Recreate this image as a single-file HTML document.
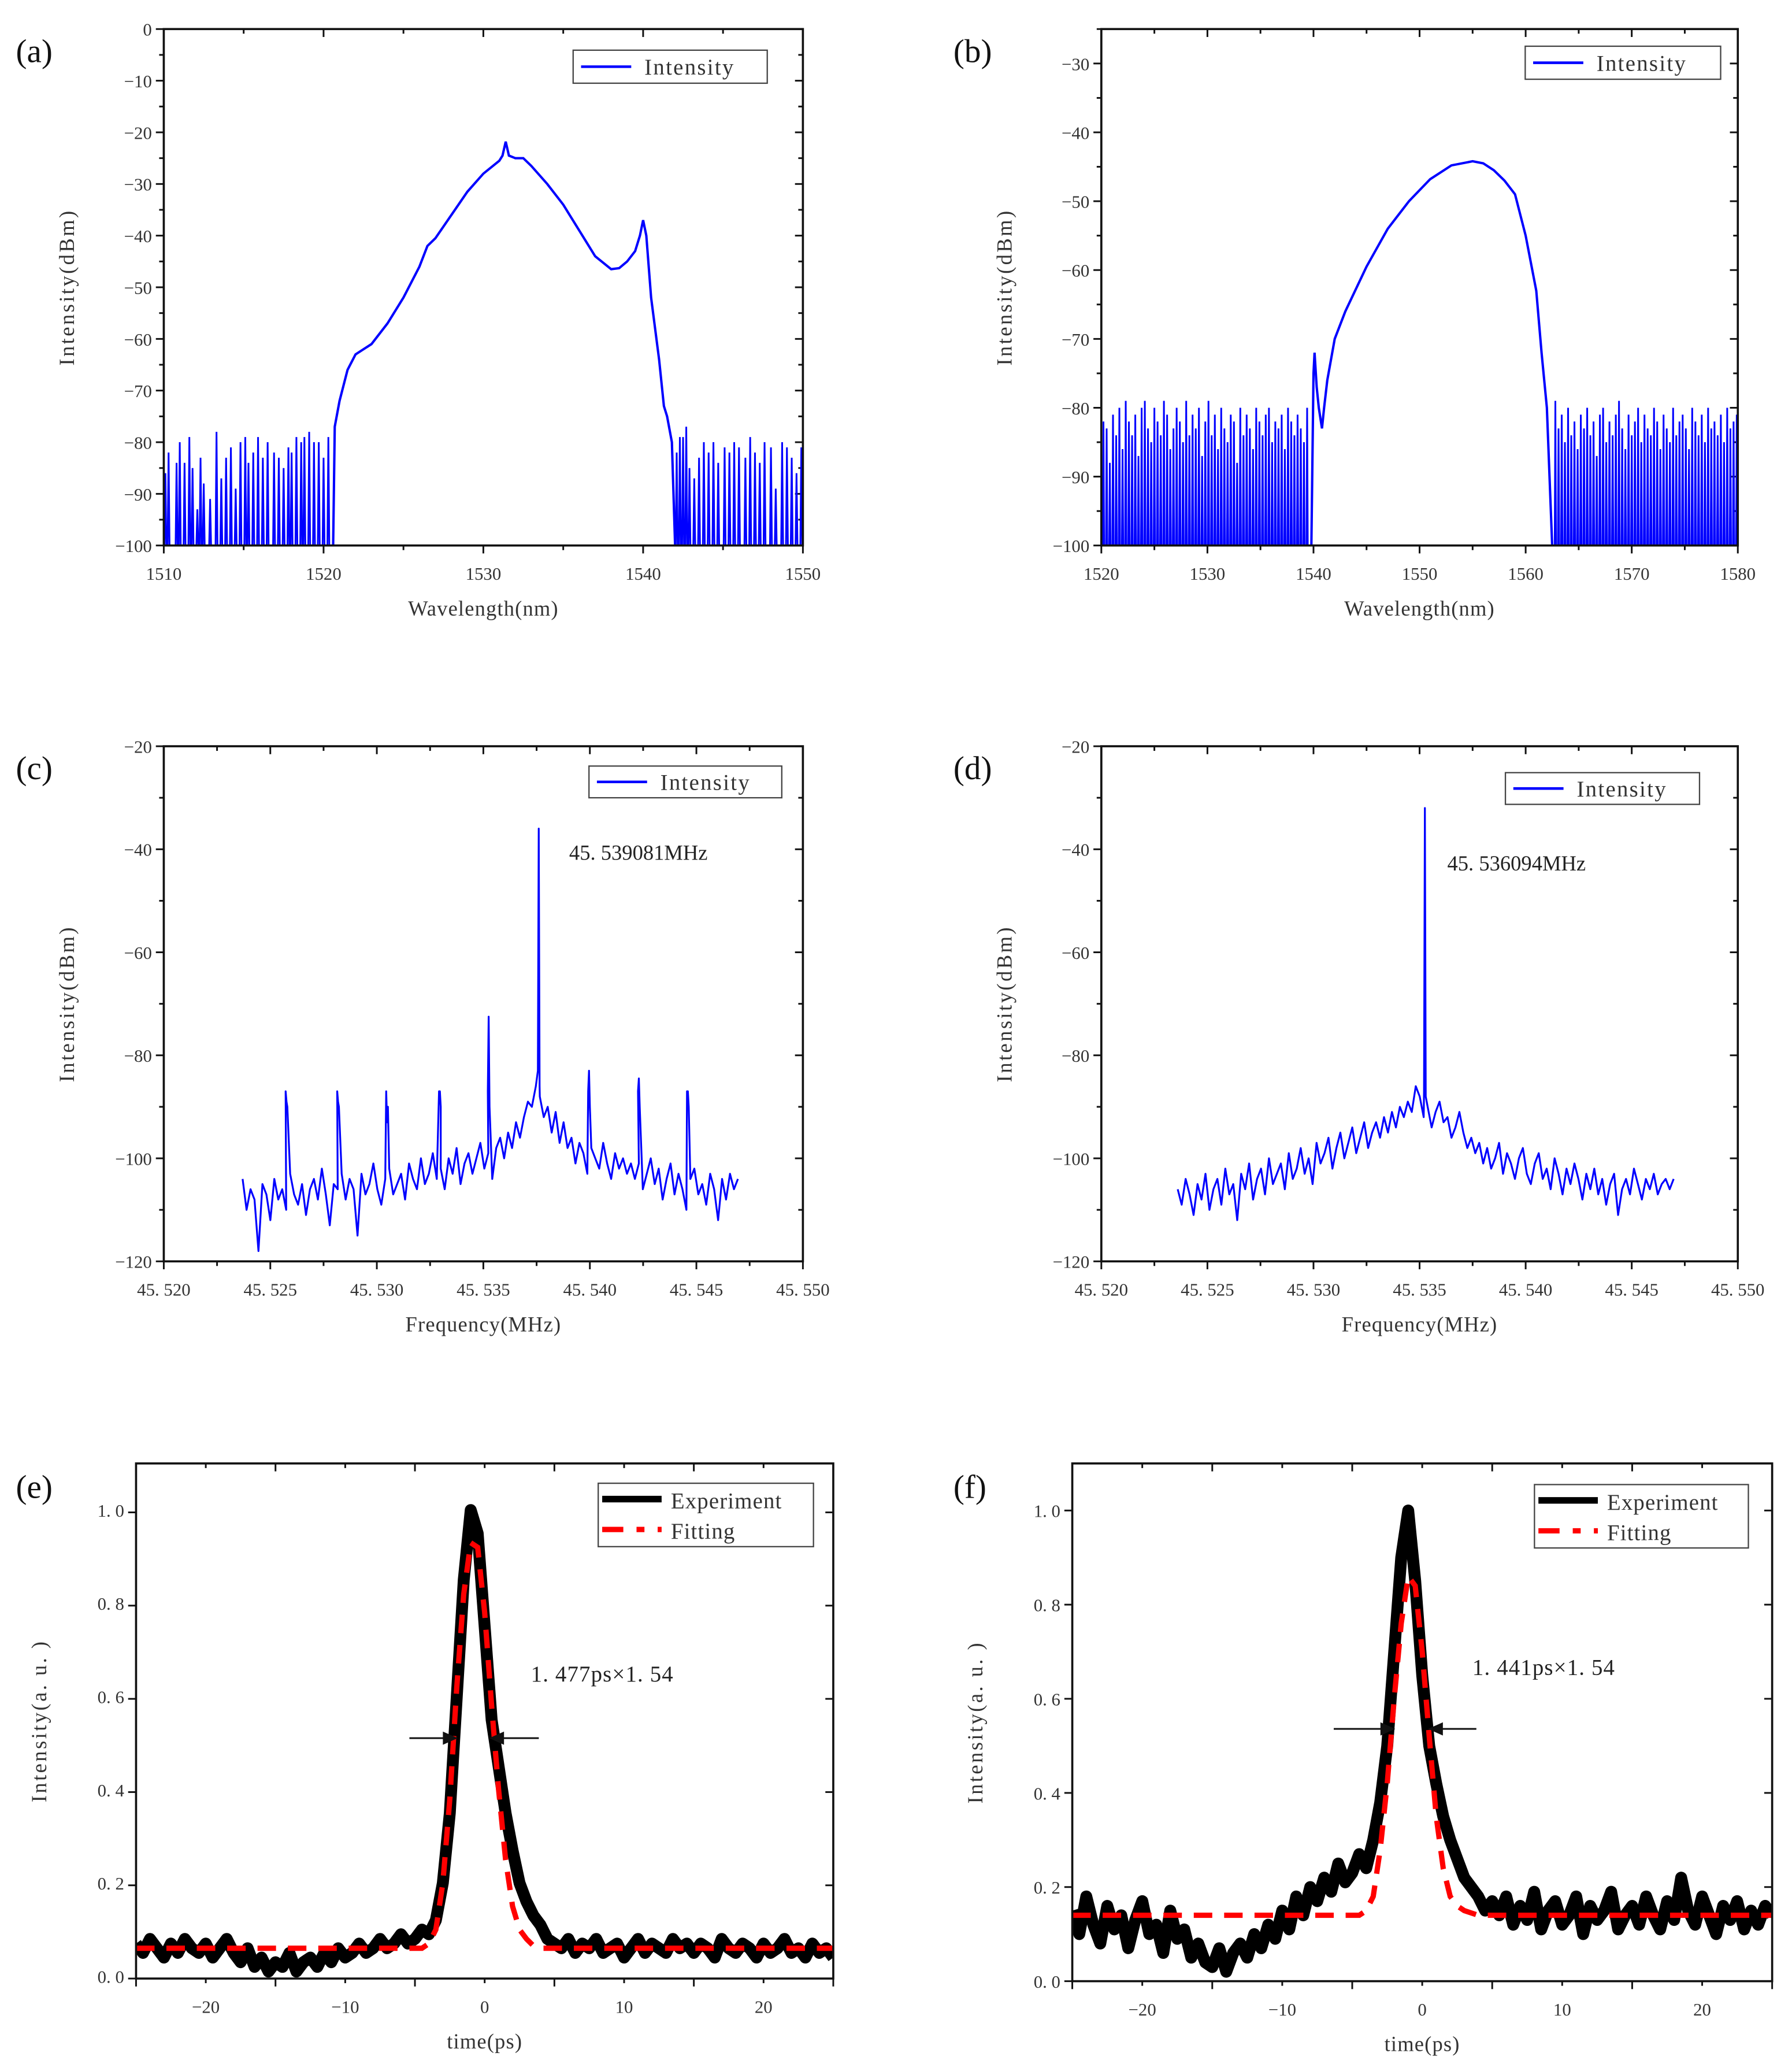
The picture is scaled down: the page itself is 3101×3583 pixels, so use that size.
<!DOCTYPE html>
<html><head><meta charset="utf-8"><style>
html,body{margin:0;padding:0;background:#fff;}
svg{display:block;}
text{font-family:"Liberation Serif","Noto Serif CJK SC",serif;}
</style></head><body>
<svg id="fig" xmlns="http://www.w3.org/2000/svg" width="3101" height="3583" viewBox="0 0 1357 1568"></svg>
<script>
// ---------- Panel (a) data ----------
const aMainX=[1520.6,1520.7,1521,1521.5,1522,1523,1524,1525,1526,1526.5,1527,1528,1529,1530,1531,1531.2,1531.4,1531.6,1532,1532.5,1533,1534,1535,1536,1537,1538,1538.5,1539,1539.5,1539.8,1540,1540.2,1540.5,1541,1541.3,1541.5,1541.8,1542];
const aMainY=[-100,-77,-72,-66,-63,-61,-57,-52,-46,-42,-40.5,-36,-31.5,-28,-25.5,-24.5,-21.8,-24.5,-25,-25,-26.5,-30,-34,-39,-44,-46.5,-46.3,-45,-43,-40,-37,-40,-52,-64,-73,-75,-80,-100];
const aNoiseX=[1510.1,1510.3,1510.8,1511,1511.3,1511.6,1511.8,1512.1,1512.3,1512.5,1512.9,1513.3,1513.6,1513.9,1514.2,1514.5,1514.8,1515.1,1515.3,1515.6,1515.9,1516.2,1516.5,1516.9,1517.2,1517.5,1517.8,1518,1518.3,1518.6,1518.8,1519.1,1519.4,1519.7,1520,1520.3,1542.1,1542.3,1542.5,1542.7,1542.9,1543.2,1543.5,1543.8,1544.1,1544.4,1544.7,1545.1,1545.4,1545.7,1546,1546.4,1546.7,1547,1547.3,1547.6,1548,1548.3,1548.7,1549,1549.3,1549.6,1549.9];
const aNoiseY=[-86,-82,-84,-80,-84,-79,-85,-93,-83,-88,-91,-78,-87,-83,-81,-89,-80,-79,-84,-82,-79,-83,-80,-82,-83,-85,-81,-82,-79,-80,-79,-78,-80,-80,-83,-79,-82,-79,-79,-77,-85,-87,-83,-80,-82,-80,-84,-81,-82,-80,-81,-83,-79,-82,-84,-80,-81,-89,-80,-81,-83,-86,-81];
// ---------- Panel (b) data ----------
const bMainX=[1539.8,1540,1540.1,1540.3,1540.5,1540.8,1541,1541.3,1542,1543,1545,1547,1549,1551,1553,1555,1556,1557,1558,1559,1560,1561,1561.5,1562,1562.5];
const bMainY=[-100,-75,-72,-77,-80,-83,-80,-76,-70,-66,-59.5,-54,-50,-46.8,-44.8,-44.2,-44.5,-45.5,-47,-49,-55,-63,-72,-80,-100];
const bNoiseX=[1520.2,1520.5,1520.8,1521.1,1521.4,1521.7,1522,1522.3,1522.6,1522.9,1523.2,1523.5,1523.8,1524.1,1524.4,1524.7,1525,1525.3,1525.6,1525.9,1526.2,1526.5,1526.8,1527.1,1527.4,1527.7,1528,1528.3,1528.6,1528.9,1529.2,1529.5,1529.8,1530.1,1530.4,1530.7,1531,1531.3,1531.6,1531.9,1532.2,1532.5,1532.8,1533.1,1533.4,1533.7,1534,1534.3,1534.6,1534.9,1535.2,1535.5,1535.8,1536.1,1536.4,1536.7,1537,1537.3,1537.6,1537.9,1538.2,1538.5,1538.8,1539.1,1539.4,
1562.8,1563.1,1563.4,1563.7,1564,1564.3,1564.6,1564.9,1565.2,1565.5,1565.8,1566.1,1566.4,1566.7,1567,1567.3,1567.6,1567.9,1568.2,1568.5,1568.8,1569.1,1569.4,1569.7,1570,1570.3,1570.6,1570.9,1571.2,1571.5,1571.8,1572.1,1572.4,1572.7,1573,1573.3,1573.6,1573.9,1574.2,1574.5,1574.8,1575.1,1575.4,1575.7,1576,1576.3,1576.6,1576.9,1577.2,1577.5,1577.8,1578.1,1578.4,1578.7,1579,1579.3,1579.6,1579.9];
const bNoiseY=[-82,-83,-88,-81,-84,-80,-86,-79,-82,-84,-81,-87,-80,-79,-83,-85,-80,-82,-84,-79,-81,-86,-83,-80,-82,-85,-79,-84,-81,-83,-80,-87,-82,-79,-84,-81,-86,-80,-83,-85,-81,-82,-88,-80,-84,-81,-83,-86,-80,-82,-84,-81,-80,-85,-82,-83,-81,-86,-80,-82,-84,-81,-83,-85,-80,
-79,-83,-81,-85,-80,-84,-82,-86,-81,-83,-80,-84,-82,-87,-81,-80,-85,-82,-84,-81,-79,-83,-86,-81,-84,-82,-80,-85,-81,-83,-84,-80,-82,-86,-81,-83,-85,-80,-84,-82,-81,-83,-86,-80,-82,-84,-81,-85,-80,-83,-82,-84,-81,-85,-80,-83,-82,-81];
// ---------- Panel (c) data ----------
const cStart=45.5237, cStep=0.000186;
const cBase=[-104,-110,-106,-108,-118,-105,-107,-112,-104,-108,-106,-110,-103,-107,-109,-105,-111,-106,-104,-108,-102,-107,-113,-105,-106,-103,
-108,-104,-106,-115,-103,-107,-105,-101,-106,-109,-104,-102,-107,-105,-103,-108,-101,-104,-106,-100,-105,-103,-99,-104,
-102,-106,-100,-103,-98,-105,-101,-99,-103,-100,-97,-102,-99,-104,-98,-96,-100,-95,-98,-93,-96,-92,-89,-90,-86,
-88,-92,-90,-95,-91,-97,-93,-98,-96,-101,-97,-99,-103,-98,-100,-102,-97,-101,-104,-99,-102,-100,-103,-101,
-104,-101,-106,-103,-100,-105,-102,-108,-104,-101,-107,-103,-106,-110,-104,-102,-107,-105,-109,-103,-106,-112,-104,-108,-103,-106,-104];
const cSpikeX=[45.52576,45.52818,45.53048,45.53296,45.53525,45.5376,45.53996,45.5423,45.5446];
const cSpikeY=[-89,-89,-93,-87,-72.5,-36,-83,-84.5,-87];
// ---------- Panel (d) data ----------
const dStart=45.5236, dStep=0.000187;
const dBase=[-106,-109,-104,-107,-111,-105,-108,-103,-110,-106,-104,-109,-102,-107,-105,-112,-103,-106,-101,-108,-104,-102,-107,-100,-105,-103,
-101,-106,-99,-104,-102,-98,-103,-100,-105,-97,-101,-99,-96,-102,-98,-95,-100,-97,-94,-99,-96,-93,-98,-95,
-93,-96,-92,-95,-91,-94,-90,-92,-89,-91,-86,-88,-92,-90,-94,-91,-89,-93,-92,-96,-94,-91,-95,-98,-96,
-99,-97,-101,-98,-102,-100,-97,-103,-99,-101,-104,-100,-98,-103,-105,-101,-99,-104,-102,-106,-100,-103,-107,-102,
-105,-101,-104,-108,-103,-106,-102,-107,-104,-109,-105,-103,-111,-106,-104,-107,-102,-105,-108,-104,-106,-103,-107,-105,-104,-106,-104];
const dSpikeX=[45.53525];
const dSpikeY=[-32];
// ---------- Panel (e) data ----------
const eStart=-25, eStep=0.5;
const eExp=[.07,.05,.08,.06,.04,.07,.05,.08,.06,.05,.07,.04,.06,.08,.05,.03,.06,.02,.04,.01,
.03,.02,.05,.01,.03,.04,.02,.05,.03,.06,.04,.05,.07,.05,.06,.08,.06,.07,.09,.07,
.08,.1,.09,.12,.2,.35,.6,.85,1.0,.95,.75,.55,.45,.35,.27,.2,.16,.13,.11,.08,
.07,.06,.08,.05,.07,.06,.08,.05,.06,.07,.04,.06,.08,.05,.07,.06,.05,.08,.06,.07,
.05,.07,.06,.04,.08,.06,.05,.07,.06,.04,.07,.05,.06,.08,.05,.06,.04,.07,.05,.06,.04];
const eFit=[.06,.06,.06,.06,.06,.06,.06,.06,.06,.06,.06,.06,.06,.06,.06,.06,.06,.06,.06,.06,.06,.06,.06,.06,.06,.06,.06,.06,.06,.06,.06,.06,.06,.06,.06,.06,.06,.06,.06,.06,.06,.06,
.07,.1,.2,.38,.62,.82,.93,.92,.78,.58,.4,.25,.15,.1,.08,.065,
.06,.06,.06,.06,.06,.06,.06,.06,.06,.06,.06,.06,.06,.06,.06,.06,.06,.06,.06,.06,.06,.06,.06,.06,.06,.06,.06,.06,.06,.06,.06,.06,.06,.06,.06,.06,.06,.06,.06,.06,.06,.06,.06];
// ---------- Panel (f) data ----------
const fStart=-25, fStep=0.5;
const fExp=[.15,.1,.18,.12,.08,.16,.11,.14,.07,.13,.17,.1,.12,.06,.15,.09,.11,.05,.08,.04,
.03,.07,.02,.06,.08,.05,.1,.07,.12,.09,.15,.11,.18,.14,.2,.17,.22,.19,.25,.21,
.23,.27,.24,.3,.38,.5,.7,.9,1.0,.85,.65,.5,.42,.35,.3,.26,.22,.2,.18,.15,
.17,.14,.18,.12,.16,.13,.19,.11,.15,.17,.12,.14,.18,.1,.16,.13,.15,.19,.11,.14,
.16,.12,.18,.14,.11,.17,.13,.22,.15,.12,.18,.14,.1,.16,.13,.17,.11,.15,.12,.16,.14];
const fFit=[.14,.14,.14,.14,.14,.14,.14,.14,.14,.14,.14,.14,.14,.14,.14,.14,.14,.14,.14,.14,.14,.14,.14,.14,.14,.14,.14,.14,.14,.14,.14,.14,.14,.14,.14,.14,.14,.14,.14,.14,.14,.14,
.15,.18,.28,.42,.6,.76,.86,.84,.7,.52,.35,.24,.18,.16,.15,.145,
.14,.14,.14,.14,.14,.14,.14,.14,.14,.14,.14,.14,.14,.14,.14,.14,.14,.14,.14,.14,.14,.14,.14,.14,.14,.14,.14,.14,.14,.14,.14,.14,.14,.14,.14,.14,.14,.14,.14,.14,.14,.14,.14];

const NS='http://www.w3.org/2000/svg';
const svg=document.getElementById('fig');
function el(tag,attrs,parent,txt){const e=document.createElementNS(NS,tag);for(const k in attrs)e.setAttribute(k,attrs[k]);if(txt!==undefined)e.textContent=txt;(parent||svg).appendChild(e);return e;}

function axes(p){
  const g=el('g',{});
  
  
  const sx=v=>p.x0+(v-p.xmin)/(p.xmax-p.xmin)*(p.x1-p.x0);
  const sy=v=>p.y1-(v-p.ymin)/(p.ymax-p.ymin)*(p.y1-p.y0);
  p.sx=sx;p.sy=sy;p.g=g;
  const tl=el('text',{x:p.lx,y:p.ly,'font-size':25,fill:'#111'},g,'('+p.id+')');
  
  
  const tk=el('g',{stroke:'#111','stroke-width':1.3},g);
  for(let v=p.xmin;v<=p.xmax+1e-9;v+=p.xminor){
    const major=Math.abs(Math.round((v-p.xmin)/p.xmajor)*p.xmajor-(v-p.xmin))<1e-9;
    const L=major?6:3.5,X=sx(v);
    el('line',{x1:X,x2:X,y1:p.y1,y2:p.y1+L},tk);
    el('line',{x1:X,x2:X,y1:p.y0,y2:p.y0+L},tk);
  }
  for(let v=p.ymin;v<=p.ymax+1e-9;v+=p.yminor){
    const major=Math.abs(Math.round((v-p.ymin)/p.ymajor)*p.ymajor-(v-p.ymin))<1e-9;
    const L=major?6:3.5,Y=sy(v);
    el('line',{x1:p.x0-L,x2:p.x0,y1:Y,y2:Y},tk);
    el('line',{x1:p.x1-L,x2:p.x1,y1:Y,y2:Y},tk);
  }
  p.xticks.forEach((t,i)=>{const v=p.xtickVals[i];
    const e=el('text',{x:sx(v),y:p.y1+26,'font-size':13.5,fill:'#333','text-anchor':'middle'},g,t);
    });
  p.yticks.forEach((t,i)=>{const v=p.ytickVals[i];
    const e=el('text',{x:p.x0-9,y:sy(v)+5,'font-size':13.5,fill:'#333','text-anchor':'end'},g,t);
    });
  const xt=el('text',{x:(p.x0+p.x1)/2,y:p.y1+53,'font-size':16,fill:'#333','text-anchor':'middle','letter-spacing':0.5},g,p.xtitle);
  
  const yc=(p.y0+p.y1)/2;
  const yt=el('text',{x:p.x0-68,y:yc,'font-size':16,fill:'#333','text-anchor':'middle','letter-spacing':1.5,transform:`rotate(-90 ${p.x0-68} ${yc})`},g,p.ytitle);
  
  const clip=el('clipPath',{id:'clip'+p.id},g);
  el('rect',{x:p.x0,y:p.y0-2,width:p.x1-p.x0,height:p.y1-p.y0+4},clip);
  p.plot=el('g',{'clip-path':`url(#clip${p.id})`},g);
  return p;
}
function frame(p){
  const f=el('rect',{x:p.x0,y:p.y0,width:p.x1-p.x0,height:p.y1-p.y0,fill:'none',stroke:'#111','stroke-width':1.6},p.g);
  
}
function legend1(p,x,y,w,h){
  const lg=el('g',{},p.g);
  
  el('rect',{x:x,y:y,width:w,height:h,fill:'#fff',stroke:'#444','stroke-width':1},lg);
  el('line',{x1:x+6,x2:x+44,y1:y+h/2,y2:y+h/2,stroke:'#00f','stroke-width':2},lg);
  el('text',{x:x+54,y:y+h/2+6,'font-size':17,fill:'#333','letter-spacing':1},lg,'Intensity');
}
function legend2(p,x,y,w,h){
  const lg=el('g',{},p.g);
  
  el('rect',{x:x,y:y,width:w,height:h,fill:'#fff',stroke:'#444','stroke-width':1},lg);
  el('line',{x1:x+3,x2:x+48,y1:y+12,y2:y+12,stroke:'#000','stroke-width':5},lg);
  el('line',{x1:x+3,x2:x+48,y1:y+35,y2:y+35,stroke:'#f00','stroke-width':4,'stroke-dasharray':'16 10 6 10'},lg);
  el('text',{x:x+55,y:y+19,'font-size':17,fill:'#333','letter-spacing':0.5},lg,'Experiment');
  el('text',{x:x+55,y:y+42,'font-size':17,fill:'#333','letter-spacing':0.5},lg,'Fitting');
}
function spikePath(p,xs,ys,base){
  let d='';
  xs.forEach((x,i)=>{d+=`M${p.sx(x-0.06)},${p.sy(base)}L${p.sx(x)},${p.sy(ys[i])}L${p.sx(x+0.06)},${p.sy(base)}`;});
  return d;
}
function linePath(p,xs,ys){return xs.map((x,i)=>(i?'L':'M')+p.sx(x).toFixed(2)+','+p.sy(ys[i]).toFixed(2)).join('');}
function range(n,a,s){return Array.from({length:n},(_,i)=>a+i*s);}

// (a)
let pa=axes({id:'a',x0:124,x1:608,y0:22,y1:413,xmin:1510,xmax:1550,ymin:-100,ymax:0,xmajor:10,xminor:5,ymajor:10,yminor:5,
 xtickVals:[1510,1520,1530,1540,1550],xticks:['1510','1520','1530','1540','1550'],
 ytickVals:[0,-10,-20,-30,-40,-50,-60,-70,-80,-90,-100],yticks:['0','−10','−20','−30','−40','−50','−60','−70','−80','−90','−100'],
 xtitle:'Wavelength(nm)',ytitle:'Intensity(dBm)',lx:12,ly:47});
let s=el('path',{d:spikePath(pa,aNoiseX,aNoiseY,-100),fill:'none',stroke:'#00f','stroke-width':1.3},pa.plot);

s=el('path',{d:linePath(pa,aMainX,aMainY),fill:'none',stroke:'#00f','stroke-width':1.8},pa.plot);

frame(pa);legend1(pa,434,38,147,25);

// (b)
let pb=axes({id:'b',x0:834,x1:1316,y0:22,y1:413,xmin:1520,xmax:1580,ymin:-100,ymax:-25,xmajor:10,xminor:5,ymajor:10,yminor:5,
 xtickVals:[1520,1530,1540,1550,1560,1570,1580],xticks:['1520','1530','1540','1550','1560','1570','1580'],
 ytickVals:[-30,-40,-50,-60,-70,-80,-90,-100],yticks:['−30','−40','−50','−60','−70','−80','−90','−100'],
 xtitle:'Wavelength(nm)',ytitle:'Intensity(dBm)',lx:722,ly:47});
s=el('path',{d:spikePath(pb,bNoiseX,bNoiseY,-100),fill:'none',stroke:'#00f','stroke-width':1.3},pb.plot);

s=el('path',{d:linePath(pb,bMainX,bMainY),fill:'none',stroke:'#00f','stroke-width':1.8},pb.plot);

frame(pb);legend1(pb,1155,35,148,25);

// (c),(d)
function rf(p,start,step,base,spx,spy,label,lx,ly){
  let xs=range(base.length,start,step),ys=base.slice();
  spx.forEach((x,i)=>{let k=xs.findIndex(v=>v>x);xs.splice(k,0,x-0.00004,x,x+0.00004);ys.splice(k,0,Math.max(ys[k-1],-90)+3,spy[i],Math.max(ys[k],-92)+2);});
  const e=el('path',{d:linePath(p,xs,ys),fill:'none',stroke:'#00f','stroke-width':1.4,'stroke-linejoin':'round'},p.plot);
  
  const a=el('text',{x:lx,y:ly,'font-size':16,fill:'#222'},p.g,label);
  
}
const fx=[45.52,45.525,45.53,45.535,45.54,45.545,45.55];
const fxl=['45. 520','45. 525','45. 530','45. 535','45. 540','45. 545','45. 550'];
const fy=[-20,-40,-60,-80,-100,-120], fyl=['−20','−40','−60','−80','−100','−120'];
let pc=axes({id:'c',x0:124,x1:608,y0:565,y1:955,xmin:45.52,xmax:45.55,ymin:-120,ymax:-20,xmajor:0.005,xminor:0.0025,ymajor:20,yminor:10,
 xtickVals:fx,xticks:fxl,ytickVals:fy,yticks:fyl,xtitle:'Frequency(MHz)',ytitle:'Intensity(dBm)',lx:12,ly:590});
rf(pc,cStart,cStep,cBase,cSpikeX,cSpikeY,'45. 539081MHz',431,651);
frame(pc);legend1(pc,446,580,146,24);
let pd=axes({id:'d',x0:834,x1:1316,y0:565,y1:955,xmin:45.52,xmax:45.55,ymin:-120,ymax:-20,xmajor:0.005,xminor:0.0025,ymajor:20,yminor:10,
 xtickVals:fx,xticks:fxl,ytickVals:fy,yticks:fyl,xtitle:'Frequency(MHz)',ytitle:'Intensity(dBm)',lx:722,ly:590});
rf(pd,dStart,dStep,dBase,dSpikeX,dSpikeY,'45. 536094MHz',1096,659);
frame(pd);legend1(pd,1140,585,147,24);

// (e),(f)
function pulse(p,start,step,exp,fit,label,lx,ly,ay,al1,al2,ar1,ar2){
  const xs=range(exp.length,start,step);
  let e=el('path',{d:linePath(p,xs,exp),fill:'none',stroke:'#000','stroke-width':9,'stroke-linejoin':'round'},p.plot);
  
  e=el('path',{d:linePath(p,xs,fit),fill:'none',stroke:'#f00','stroke-width':4,'stroke-dasharray':'14 9'},p.plot);
  
  const a=el('text',{x:lx,y:ly,'font-size':17,fill:'#222','letter-spacing':0.5},p.g,label);
  
  const ar=el('g',{stroke:'#111','stroke-width':1.3,fill:'#111'},p.g);
  
  el('line',{x1:al1,x2:al2,y1:ay,y2:ay},ar);
  el('path',{d:`M${al2},${ay}l-9,-4v8z`},ar);
  el('line',{x1:ar1,x2:ar2,y1:ay,y2:ay},ar);
  el('path',{d:`M${ar2},${ay}l9,-4v8z`},ar);
}
const tx=[-20,-10,0,10,20],txl=['−20','−10','0','10','20'];
let pe=axes({id:'e',x0:103,x1:631,y0:1108,y1:1498,xmin:-25,xmax:25,ymin:-0.005,ymax:1.1,xmajor:10,xminor:5,ymajor:0.2,yminor:0.2,
 xtickVals:tx,xticks:txl,ytickVals:[0,0.2,0.4,0.6,0.8,1.0],yticks:['0. 0','0. 2','0. 4','0. 6','0. 8','1. 0'],
 xtitle:'time(ps)',ytitle:'Intensity(a. u. )',lx:12,ly:1134});
pulse(pe,eStart,eStep,eExp,eFit,'1. 477ps×1. 54',402,1273,1316,310,345,408,372);
frame(pe);legend2(pe,453,1123,163,48);
let pf=axes({id:'f',x0:812,x1:1342,y0:1108,y1:1500,xmin:-25,xmax:25,ymin:0,ymax:1.1,xmajor:10,xminor:5,ymajor:0.2,yminor:0.2,
 xtickVals:tx,xticks:txl,ytickVals:[0,0.2,0.4,0.6,0.8,1.0],yticks:['0. 0','0. 2','0. 4','0. 6','0. 8','1. 0'],
 xtitle:'time(ps)',ytitle:'Intensity(a. u. )',lx:722,ly:1134});
pulse(pf,fStart,fStep,fExp,fFit,'1. 441ps×1. 54',1115,1268,1309,1010,1055,1118,1083);
frame(pf);legend2(pf,1162,1124,162,48);
</script>
</body></html>
